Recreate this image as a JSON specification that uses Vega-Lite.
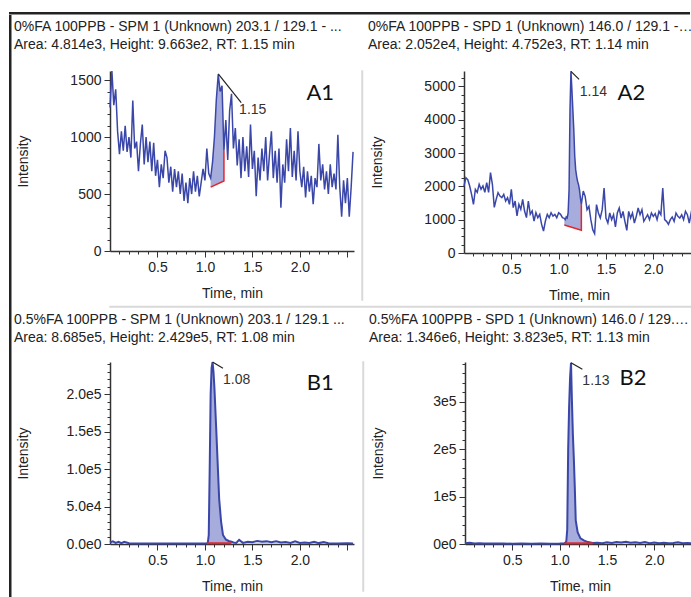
{
  "$schema": "https://vega.github.io/schema/vega-lite/v6.json",
  "padding": {"left": 9, "top": 12, "right": 0, "bottom": 0},
  "background": "white",
  "config": {
    "view": {"stroke": null},
    "font": "Liberation Sans",
    "axis": {
      "labelFont": "Liberation Sans", "labelFontSize": 14, "labelColor": "#222",
      "titleFont": "Liberation Sans", "titleFontSize": 14, "titleFontWeight": "normal", "titleColor": "#222",
      "domainColor": "#333", "domainWidth": 1.5, "tickColor": "#333", "tickWidth": 1, "grid": false,
      "labelPadding": 3, "labelOverlap": false, "labelFlush": false
    },
    "title": {"font": "Liberation Sans", "fontSize": 14, "fontWeight": "normal", "color": "#222", "anchor": "start", "lineHeight": 18, "dx": -2, "offset": 18}
  },
  "datasets": {
    "a1": [{"t":0,"v":1260},{"t":0.02,"v":1580},{"t":0.04,"v":1280},{"t":0.06,"v":1420},{"t":0.08,"v":1050},{"t":0.1,"v":850},{"t":0.12,"v":1050},{"t":0.14,"v":880},{"t":0.16,"v":1100},{"t":0.18,"v":870},{"t":0.2,"v":1000},{"t":0.22,"v":820},{"t":0.24,"v":1320},{"t":0.26,"v":900},{"t":0.28,"v":960},{"t":0.3,"v":700},{"t":0.32,"v":940},{"t":0.34,"v":1110},{"t":0.36,"v":760},{"t":0.38,"v":1000},{"t":0.4,"v":780},{"t":0.42,"v":960},{"t":0.44,"v":700},{"t":0.46,"v":950},{"t":0.48,"v":660},{"t":0.5,"v":800},{"t":0.52,"v":560},{"t":0.54,"v":760},{"t":0.56,"v":640},{"t":0.58,"v":880},{"t":0.6,"v":820},{"t":0.62,"v":600},{"t":0.64,"v":740},{"t":0.66,"v":520},{"t":0.68,"v":720},{"t":0.7,"v":560},{"t":0.72,"v":700},{"t":0.74,"v":500},{"t":0.76,"v":680},{"t":0.78,"v":440},{"t":0.8,"v":600},{"t":0.82,"v":420},{"t":0.84,"v":640},{"t":0.86,"v":500},{"t":0.88,"v":700},{"t":0.9,"v":520},{"t":0.92,"v":660},{"t":0.94,"v":480},{"t":0.96,"v":600},{"t":0.98,"v":720},{"t":1,"v":620},{"t":1.02,"v":900},{"t":1.04,"v":680},{"t":1.06,"v":640,"base":561},{"t":1.08,"v":780,"base":569},{"t":1.1,"v":1000,"base":576},{"t":1.12,"v":1330,"base":584},{"t":1.14,"v":1550,"base":591},{"t":1.16,"v":1400,"base":599},{"t":1.18,"v":1450,"base":606},{"t":1.2,"v":880,"base":614},{"t":1.22,"v":1150},{"t":1.24,"v":800},{"t":1.26,"v":1230},{"t":1.28,"v":1380},{"t":1.3,"v":900},{"t":1.32,"v":1080},{"t":1.34,"v":750},{"t":1.36,"v":980},{"t":1.38,"v":640},{"t":1.4,"v":1000},{"t":1.42,"v":700},{"t":1.44,"v":920},{"t":1.46,"v":650},{"t":1.48,"v":1110},{"t":1.5,"v":720},{"t":1.52,"v":880},{"t":1.54,"v":480},{"t":1.56,"v":820},{"t":1.58,"v":620},{"t":1.6,"v":900},{"t":1.62,"v":700},{"t":1.64,"v":1000},{"t":1.66,"v":620},{"t":1.68,"v":850},{"t":1.7,"v":1050},{"t":1.72,"v":640},{"t":1.74,"v":880},{"t":1.76,"v":600},{"t":1.78,"v":900},{"t":1.8,"v":380},{"t":1.82,"v":760},{"t":1.84,"v":600},{"t":1.86,"v":980},{"t":1.88,"v":700},{"t":1.9,"v":1080},{"t":1.92,"v":650},{"t":1.94,"v":880},{"t":1.96,"v":620},{"t":1.98,"v":1050},{"t":2,"v":700},{"t":2.02,"v":560},{"t":2.04,"v":740},{"t":2.06,"v":470},{"t":2.08,"v":700},{"t":2.1,"v":520},{"t":2.12,"v":660},{"t":2.14,"v":410},{"t":2.16,"v":640},{"t":2.18,"v":560},{"t":2.2,"v":940},{"t":2.22,"v":620},{"t":2.24,"v":760},{"t":2.26,"v":540},{"t":2.28,"v":700},{"t":2.3,"v":500},{"t":2.32,"v":760},{"t":2.34,"v":560},{"t":2.36,"v":680},{"t":2.38,"v":540},{"t":2.4,"v":1020},{"t":2.42,"v":560},{"t":2.44,"v":300},{"t":2.46,"v":620},{"t":2.48,"v":420},{"t":2.5,"v":640},{"t":2.52,"v":300},{"t":2.54,"v":560},{"t":2.56,"v":870}],
    "a1red": [{"t":1.06,"v":561,"o":1},{"t":1.2,"v":614,"o":2},{"t":1.2,"v":880,"o":3}],
    "a1ann": [{"t":1.14,"v":1555,"t2":1.382,"v2":1302}],
    "a1lab": [{"t":1.36,"v":1238,"label":"1.15"}],
    "a1tag": [{"t":2.215,"v":1383,"label":"A1"}],
    "a2": [{"t":0,"v":2010},{"t":0.02,"v":2260},{"t":0.04,"v":2200},{"t":0.06,"v":2010},{"t":0.08,"v":1760},{"t":0.1,"v":1460},{"t":0.12,"v":1910},{"t":0.14,"v":1820},{"t":0.16,"v":2060},{"t":0.18,"v":1910},{"t":0.2,"v":2010},{"t":0.22,"v":1820},{"t":0.24,"v":2110},{"t":0.26,"v":1820},{"t":0.28,"v":2410},{"t":0.3,"v":2060},{"t":0.32,"v":1370},{"t":0.34,"v":1610},{"t":0.36,"v":1810},{"t":0.38,"v":1710},{"t":0.4,"v":1660},{"t":0.42,"v":1760},{"t":0.44,"v":1560},{"t":0.46,"v":1660},{"t":0.48,"v":1460},{"t":0.5,"v":1910},{"t":0.52,"v":1360},{"t":0.54,"v":1560},{"t":0.56,"v":1110},{"t":0.58,"v":1460},{"t":0.6,"v":1310},{"t":0.62,"v":1610},{"t":0.64,"v":1260},{"t":0.66,"v":1060},{"t":0.68,"v":1560},{"t":0.7,"v":1160},{"t":0.72,"v":1260},{"t":0.74,"v":960},{"t":0.76,"v":1210},{"t":0.78,"v":1060},{"t":0.8,"v":1160},{"t":0.82,"v":860},{"t":0.84,"v":660},{"t":0.86,"v":960},{"t":0.88,"v":1160},{"t":0.9,"v":1060},{"t":0.92,"v":1210},{"t":0.94,"v":1110},{"t":0.96,"v":1160},{"t":0.98,"v":1060},{"t":1,"v":1210},{"t":1.02,"v":1160},{"t":1.04,"v":1060},{"t":1.06,"v":1040,"base":840},{"t":1.07,"v":1000,"base":831},{"t":1.08,"v":1080,"base":822},{"t":1.09,"v":1050,"base":813},{"t":1.1,"v":1200,"base":804},{"t":1.11,"v":1900,"base":795},{"t":1.12,"v":4300,"base":786},{"t":1.13,"v":5450,"base":777},{"t":1.14,"v":4900,"base":768},{"t":1.15,"v":4300,"base":760},{"t":1.16,"v":3700,"base":751},{"t":1.17,"v":2900,"base":742},{"t":1.18,"v":2500,"base":733},{"t":1.19,"v":2300,"base":724},{"t":1.2,"v":2150,"base":715},{"t":1.21,"v":2050,"base":706},{"t":1.22,"v":1900,"base":697},{"t":1.23,"v":1650,"base":689},{"t":1.24,"v":1460,"base":680},{"t":1.26,"v":1860},{"t":1.28,"v":1700},{"t":1.3,"v":1300},{"t":1.32,"v":1400},{"t":1.34,"v":1000},{"t":1.36,"v":700},{"t":1.38,"v":580},{"t":1.4,"v":1450},{"t":1.42,"v":1200},{"t":1.44,"v":1050},{"t":1.46,"v":1300},{"t":1.48,"v":1950},{"t":1.5,"v":1050},{"t":1.52,"v":900},{"t":1.54,"v":1200},{"t":1.56,"v":1000},{"t":1.58,"v":1150},{"t":1.6,"v":780},{"t":1.62,"v":1200},{"t":1.64,"v":1350},{"t":1.66,"v":1050},{"t":1.68,"v":1250},{"t":1.7,"v":950},{"t":1.72,"v":680},{"t":1.74,"v":1250},{"t":1.76,"v":1050},{"t":1.78,"v":1200},{"t":1.8,"v":900},{"t":1.82,"v":1100},{"t":1.84,"v":1350},{"t":1.86,"v":1150},{"t":1.88,"v":1300},{"t":1.9,"v":950},{"t":1.92,"v":1050},{"t":1.94,"v":1150},{"t":1.96,"v":1000},{"t":1.98,"v":1200},{"t":2,"v":1100},{"t":2.02,"v":1180},{"t":2.04,"v":1000},{"t":2.06,"v":1250},{"t":2.08,"v":1150},{"t":2.1,"v":1950},{"t":2.12,"v":1000},{"t":2.14,"v":950},{"t":2.16,"v":860},{"t":2.18,"v":1000},{"t":2.2,"v":1080},{"t":2.22,"v":950},{"t":2.24,"v":1200},{"t":2.26,"v":1100},{"t":2.28,"v":1050},{"t":2.3,"v":1150},{"t":2.32,"v":1000},{"t":2.34,"v":1250},{"t":2.36,"v":1150},{"t":2.38,"v":900},{"t":2.4,"v":1200},{"t":2.42,"v":1050}],
    "a2red": [{"t":1.06,"v":840,"o":1},{"t":1.24,"v":680,"o":2},{"t":1.24,"v":1460,"o":3}],
    "a2ann": [{"t":1.13,"v":5450,"t2":1.216,"v2":5210}],
    "a2lab": [{"t":1.223,"v":4836,"label":"1.14"}],
    "a2tag": [{"t":1.769,"v":4810,"label":"A2"}],
    "b1": [{"t":0,"v":2000},{"t":0.03,"v":3500},{"t":0.06,"v":1500},{"t":0.09,"v":3000},{"t":0.12,"v":1200},{"t":0.15,"v":2800},{"t":0.2,"v":900},{"t":0.3,"v":700},{"t":0.4,"v":800},{"t":0.5,"v":600},{"t":0.6,"v":700},{"t":0.7,"v":600},{"t":0.8,"v":700},{"t":0.9,"v":600},{"t":1,"v":800},{"t":1.02,"v":1000,"base":1000},{"t":1.03,"v":1500,"base":1000},{"t":1.04,"v":12000,"base":1000},{"t":1.05,"v":100000,"base":1000},{"t":1.06,"v":200000,"base":1000},{"t":1.07,"v":235000,"base":1000},{"t":1.08,"v":242900,"base":1000},{"t":1.09,"v":230000,"base":1000},{"t":1.1,"v":208000,"base":1000},{"t":1.12,"v":150000,"base":1000},{"t":1.13,"v":120000,"base":1000},{"t":1.15,"v":60000,"base":1000},{"t":1.17,"v":30000,"base":1000},{"t":1.19,"v":12000,"base":1000},{"t":1.22,"v":6000,"base":1000},{"t":1.25,"v":4000,"base":1000},{"t":1.28,"v":3000,"base":1000},{"t":1.3,"v":2000},{"t":1.33,"v":1500},{"t":1.36,"v":5500},{"t":1.4,"v":1500},{"t":1.45,"v":3000},{"t":1.5,"v":2500},{"t":1.55,"v":4000},{"t":1.6,"v":3000},{"t":1.65,"v":3500},{"t":1.7,"v":2500},{"t":1.75,"v":3500},{"t":1.8,"v":2000},{"t":1.85,"v":2500},{"t":1.9,"v":1500},{"t":1.95,"v":3500},{"t":2,"v":1500},{"t":2.05,"v":2000},{"t":2.1,"v":1500},{"t":2.15,"v":3000},{"t":2.2,"v":1200},{"t":2.25,"v":2500},{"t":2.3,"v":1000},{"t":2.4,"v":800},{"t":2.5,"v":900},{"t":2.56,"v":800}],
    "b1red": [{"t":1.02,"v":1000,"o":1},{"t":1.28,"v":1000,"o":2}],
    "b1ann": [{"t":1.08,"v":242900,"t2":1.19,"v2":234700}],
    "b1lab": [{"t":1.19,"v":219000,"label":"1.08"}],
    "b1tag": [{"t":2.215,"v":214700,"label":"B1"}],
    "b2": [{"t":0,"v":1500},{"t":0.05,"v":2500},{"t":0.1,"v":1000},{"t":0.15,"v":1800},{"t":0.2,"v":1200},{"t":0.3,"v":800},{"t":0.4,"v":1000},{"t":0.5,"v":700},{"t":0.6,"v":900},{"t":0.7,"v":700},{"t":0.8,"v":800},{"t":0.9,"v":600},{"t":1,"v":900},{"t":1.05,"v":1500,"base":1500},{"t":1.06,"v":3000,"base":1500},{"t":1.07,"v":5000,"base":1500},{"t":1.08,"v":30000,"base":1500},{"t":1.09,"v":200000,"base":1500},{"t":1.1,"v":290000,"base":1500},{"t":1.11,"v":350000,"base":1500},{"t":1.12,"v":382300,"base":1500},{"t":1.13,"v":300000,"base":1500},{"t":1.14,"v":230000,"base":1500},{"t":1.15,"v":180000,"base":1500},{"t":1.16,"v":120000,"base":1500},{"t":1.17,"v":50000,"base":1500},{"t":1.19,"v":25000,"base":1500},{"t":1.22,"v":12000,"base":1500},{"t":1.26,"v":7000,"base":1500},{"t":1.3,"v":4000,"base":1500},{"t":1.35,"v":2000,"base":1500},{"t":1.4,"v":2500},{"t":1.45,"v":1500},{"t":1.5,"v":3500},{"t":1.55,"v":2000},{"t":1.6,"v":4000},{"t":1.65,"v":3000},{"t":1.7,"v":4500},{"t":1.75,"v":2500},{"t":1.8,"v":3500},{"t":1.85,"v":2000},{"t":1.9,"v":4000},{"t":1.95,"v":1500},{"t":2,"v":3000},{"t":2.05,"v":1500},{"t":2.1,"v":2500},{"t":2.15,"v":1500},{"t":2.2,"v":2000},{"t":2.25,"v":3500},{"t":2.3,"v":1500},{"t":2.35,"v":2000},{"t":2.42,"v":1500}],
    "b2red": [{"t":1.05,"v":1500,"o":1},{"t":1.35,"v":1500,"o":2}],
    "b2ann": [{"t":1.12,"v":382300,"t2":1.24,"v2":368600}],
    "b2lab": [{"t":1.24,"v":344000,"label":"1.13"}],
    "b2tag": [{"t":1.776,"v":349700,"label":"B2"}],
    "empty": []
  },
  "columns": 1,
  "align": "none",
  "spacing": 0,
  "concat": [
    {"width": 679, "height": 0.5, "data": {"name": "empty"}, "mark": "point", "view": {"stroke": "#222", "strokeWidth": 2}},
    {
      "columns": 2,
      "align": "none",
      "spacing": 2,
      "concat": [
        {"width": 0.5, "height": 581, "data": {"name": "empty"}, "mark": "point", "view": {"stroke": "#222", "strokeWidth": 2}},
        {
          "columns": 1,
          "align": "none",
          "spacing": 0,
          "concat": [
            {"width": 0.5, "height": 3.5, "data": {"name": "empty"}, "mark": "point"},
            {
              "columns": 1,
              "align": "none",
              "spacing": 3.5,
              "concat": [
                {
                  "columns": 3,
                  "align": "none",
                  "spacing": 4,
                  "concat": [
                    {
                      "width": 244, "height": 180,
                      "title": {"text": ["0%FA 100PPB - SPM 1 (Unknown) 203.1 / 129.1 - ...", "Area: 4.814e3, Height: 9.663e2, RT: 1.15 min"], "offset": 16, "lineHeight": 18},
                      "encoding": {
                        "x": {"field": "t", "type": "quantitative", "scale": {"domain": [0, 2.57], "nice": false, "zero": false},
                          "axis": {"title": "Time, min", "values": [0.1,0.2,0.3,0.4,0.5,0.6,0.7,0.8,0.9,1,1.1,1.2,1.3,1.4,1.5,1.6,1.7,1.8,1.9,2,2.1,2.2,2.3,2.4,2.5],
                            "labelExpr": "(abs(datum.value*2-round(datum.value*2))<0.001 && datum.value<2.2) ? format(datum.value,'.1f') : ''",
                            "tickSize": {"condition": {"test": "abs(datum.value*2-round(datum.value*2))<0.001", "value": 6}, "value": 3},
                            "titlePadding": 12}},
                        "y": {"field": "v", "type": "quantitative", "scale": {"domain": [0, 1580], "nice": false},
                          "axis": {"title": "Intensity", "values": [0,100,200,300,400,500,600,700,800,900,1000,1100,1200,1300,1400,1500],
                            "labelExpr": "datum.value % 500 == 0 ? format(datum.value,'d') : ''",
                            "tickSize": {"condition": {"test": "datum.value % 500 == 0", "value": 6}, "value": 3},
                            "titleX": -87, "titleY": 90, "titleBaseline": "middle", "titleAngle": -90}}
                      },
                      "layer": [
                        {"data": {"name": "a1"}, "transform": [{"filter": "isValid(datum.base)"}], "mark": {"type": "area", "color": "#a6acdc"}, "encoding": {"y2": {"field": "base"}}},
                        {"data": {"name": "a1"}, "mark": {"type": "line", "color": "#3a47a8", "strokeWidth": 1.5}, "encoding": {}},
                        {"data": {"name": "a1red"}, "mark": {"type": "line", "color": "#e3262a", "strokeWidth": 1.5}, "encoding": {"order": {"field": "o"}}},
                        {"data": {"name": "a1ann"}, "mark": {"type": "rule", "color": "#222", "strokeWidth": 1.2}, "encoding": {"x2": {"field": "t2"}, "y2": {"field": "v2"}}},
                        {"data": {"name": "a1lab"}, "mark": {"type": "text", "align": "left", "baseline": "middle", "fontSize": 14, "color": "#333"}, "encoding": {"text": {"field": "label"}}},
                        {"data": {"name": "a1tag"}, "mark": {"type": "text", "align": "center", "baseline": "middle", "font": "Lato", "fontSize": 22, "color": "#111"}, "encoding": {"text": {"field": "label"}}}
                      ]
                    },
                    {"width": 0.5, "height": 229, "data": {"name": "empty"}, "mark": "point", "view": {"stroke": "#d9d9d9", "strokeWidth": 1.5}},
                    {
                      "width": 230, "height": 182,
                      "title": {"text": ["0%FA 100PPB - SPD 1 (Unknown) 146.0 / 129.1 - ...", "Area: 2.052e4, Height: 4.752e3, RT: 1.14 min"], "offset": 16, "lineHeight": 18, "limit": 326},
                      "encoding": {
                        "x": {"field": "t", "type": "quantitative", "scale": {"domain": [0, 2.43], "nice": false, "zero": false},
                          "axis": {"title": "Time, min", "values": [0.1,0.2,0.3,0.4,0.5,0.6,0.7,0.8,0.9,1,1.1,1.2,1.3,1.4,1.5,1.6,1.7,1.8,1.9,2,2.1,2.2,2.3,2.4],
                            "labelExpr": "(abs(datum.value*2-round(datum.value*2))<0.001 && datum.value<2.2) ? format(datum.value,'.1f') : ''",
                            "tickSize": {"condition": {"test": "abs(datum.value*2-round(datum.value*2))<0.001", "value": 6}, "value": 3},
                            "titlePadding": 12}},
                        "y": {"field": "v", "type": "quantitative", "scale": {"domain": [0, 5460], "nice": false},
                          "axis": {"title": "Intensity", "values": [0,250,500,750,1000,1250,1500,1750,2000,2250,2500,2750,3000,3250,3500,3750,4000,4250,4500,4750,5000,5250],
                            "labelExpr": "datum.value % 1000 == 0 ? format(datum.value,'d') : ''",
                            "tickSize": {"condition": {"test": "datum.value % 1000 == 0", "value": 6}, "value": 3},
                            "titleX": -87, "titleY": 91, "titleBaseline": "middle", "titleAngle": -90}}
                      },
                      "layer": [
                        {"data": {"name": "a2"}, "transform": [{"filter": "isValid(datum.base)"}], "mark": {"type": "area", "color": "#a6acdc"}, "encoding": {"y2": {"field": "base"}}},
                        {"data": {"name": "a2"}, "mark": {"type": "line", "color": "#3a47a8", "strokeWidth": 1.5}, "encoding": {}},
                        {"data": {"name": "a2red"}, "mark": {"type": "line", "color": "#e3262a", "strokeWidth": 1.5}, "encoding": {"order": {"field": "o"}}},
                        {"data": {"name": "a2ann"}, "mark": {"type": "rule", "color": "#222", "strokeWidth": 1.2}, "encoding": {"x2": {"field": "t2"}, "y2": {"field": "v2"}}},
                        {"data": {"name": "a2lab"}, "mark": {"type": "text", "align": "left", "baseline": "middle", "fontSize": 14, "color": "#333"}, "encoding": {"text": {"field": "label"}}},
                        {"data": {"name": "a2tag"}, "mark": {"type": "text", "align": "center", "baseline": "middle", "font": "Lato", "fontSize": 22, "color": "#111"}, "encoding": {"text": {"field": "label"}}}
                      ]
                    }
                  ]
                },
                {"width": 675, "height": 0.5, "data": {"name": "empty"}, "mark": "point", "view": {"stroke": "#d9d9d9", "strokeWidth": 1.5}},
                {
                  "columns": 3,
                  "align": "none",
                  "spacing": 4,
                  "concat": [
                    {
                      "width": 244, "height": 182,
                      "title": {"text": ["0.5%FA 100PPB - SPM 1 (Unknown) 203.1 / 129.1 ...", "Area: 8.685e5, Height: 2.429e5, RT: 1.08 min"], "offset": 12, "lineHeight": 18},
                      "encoding": {
                        "x": {"field": "t", "type": "quantitative", "scale": {"domain": [0, 2.57], "nice": false, "zero": false},
                          "axis": {"title": "Time, min", "values": [0.1,0.2,0.3,0.4,0.5,0.6,0.7,0.8,0.9,1,1.1,1.2,1.3,1.4,1.5,1.6,1.7,1.8,1.9,2,2.1,2.2,2.3,2.4,2.5],
                            "labelExpr": "(abs(datum.value*2-round(datum.value*2))<0.001 && datum.value<2.2) ? format(datum.value,'.1f') : ''",
                            "tickSize": {"condition": {"test": "abs(datum.value*2-round(datum.value*2))<0.001", "value": 6}, "value": 3},
                            "titlePadding": 12}},
                        "y": {"field": "v", "type": "quantitative", "scale": {"domain": [0, 243000], "nice": false},
                          "axis": {"title": "Intensity", "values": [0,10000,20000,30000,40000,50000,60000,70000,80000,90000,100000,110000,120000,130000,140000,150000,160000,170000,180000,190000,200000,210000,220000,230000,240000],
                            "labelExpr": "datum.value % 50000 == 0 ? replace(format(datum.value,'.1e'),'e+','e') : ''",
                            "tickSize": {"condition": {"test": "datum.value % 50000 == 0", "value": 6}, "value": 3},
                            "titleX": -87, "titleY": 91, "titleBaseline": "middle", "titleAngle": -90}}
                      },
                      "layer": [
                        {"data": {"name": "b1"}, "transform": [{"filter": "isValid(datum.base)"}], "mark": {"type": "area", "color": "#a6acdc"}, "encoding": {"y2": {"field": "base"}}},
                        {"data": {"name": "b1"}, "mark": {"type": "line", "color": "#3a47a8", "strokeWidth": 2}, "encoding": {}},
                        {"data": {"name": "b1red"}, "mark": {"type": "line", "color": "#e3262a", "strokeWidth": 2}, "encoding": {"order": {"field": "o"}}},
                        {"data": {"name": "b1ann"}, "mark": {"type": "rule", "color": "#222", "strokeWidth": 1.2}, "encoding": {"x2": {"field": "t2"}, "y2": {"field": "v2"}}},
                        {"data": {"name": "b1lab"}, "mark": {"type": "text", "align": "left", "baseline": "middle", "fontSize": 14, "color": "#333"}, "encoding": {"text": {"field": "label"}}},
                        {"data": {"name": "b1tag"}, "mark": {"type": "text", "align": "center", "baseline": "middle", "font": "Lato", "fontSize": 22, "color": "#111"}, "encoding": {"text": {"field": "label"}}}
                      ]
                    },
                    {"width": 0.5, "height": 229, "data": {"name": "empty"}, "mark": "point", "view": {"stroke": "#d9d9d9", "strokeWidth": 1.5}},
                    {
                      "width": 230, "height": 182,
                      "title": {"text": ["0.5%FA 100PPB - SPD 1 (Unknown) 146.0 / 129.1 ...", "Area: 1.346e6, Height: 3.823e5, RT: 1.13 min"], "offset": 12, "lineHeight": 18, "limit": 326},
                      "encoding": {
                        "x": {"field": "t", "type": "quantitative", "scale": {"domain": [0, 2.43], "nice": false, "zero": false},
                          "axis": {"title": "Time, min", "values": [0.1,0.2,0.3,0.4,0.5,0.6,0.7,0.8,0.9,1,1.1,1.2,1.3,1.4,1.5,1.6,1.7,1.8,1.9,2,2.1,2.2,2.3,2.4],
                            "labelExpr": "(abs(datum.value*2-round(datum.value*2))<0.001 && datum.value<2.2) ? format(datum.value,'.1f') : ''",
                            "tickSize": {"condition": {"test": "abs(datum.value*2-round(datum.value*2))<0.001", "value": 6}, "value": 3},
                            "titlePadding": 12}},
                        "y": {"field": "v", "type": "quantitative", "scale": {"domain": [0, 384000], "nice": false},
                          "axis": {"title": "Intensity", "values": [0,20000,40000,60000,80000,100000,120000,140000,160000,180000,200000,220000,240000,260000,280000,300000,320000,340000,360000,380000],
                            "labelExpr": "datum.value % 100000 == 0 ? replace(format(datum.value,'.0e'),'e+','e') : ''",
                            "tickSize": {"condition": {"test": "datum.value % 100000 == 0", "value": 6}, "value": 3},
                            "titleX": -87, "titleY": 91, "titleBaseline": "middle", "titleAngle": -90}}
                      },
                      "layer": [
                        {"data": {"name": "b2"}, "transform": [{"filter": "isValid(datum.base)"}], "mark": {"type": "area", "color": "#a6acdc"}, "encoding": {"y2": {"field": "base"}}},
                        {"data": {"name": "b2"}, "mark": {"type": "line", "color": "#3a47a8", "strokeWidth": 2}, "encoding": {}},
                        {"data": {"name": "b2red"}, "mark": {"type": "line", "color": "#e3262a", "strokeWidth": 2}, "encoding": {"order": {"field": "o"}}},
                        {"data": {"name": "b2ann"}, "mark": {"type": "rule", "color": "#222", "strokeWidth": 1.2}, "encoding": {"x2": {"field": "t2"}, "y2": {"field": "v2"}}},
                        {"data": {"name": "b2lab"}, "mark": {"type": "text", "align": "left", "baseline": "middle", "fontSize": 14, "color": "#333"}, "encoding": {"text": {"field": "label"}}},
                        {"data": {"name": "b2tag"}, "mark": {"type": "text", "align": "center", "baseline": "middle", "font": "Lato", "fontSize": 22, "color": "#111"}, "encoding": {"text": {"field": "label"}}}
                      ]
                    }
                  ]
                }
              ]
            }
          ]
        }
      ]
    }
  ]
}
